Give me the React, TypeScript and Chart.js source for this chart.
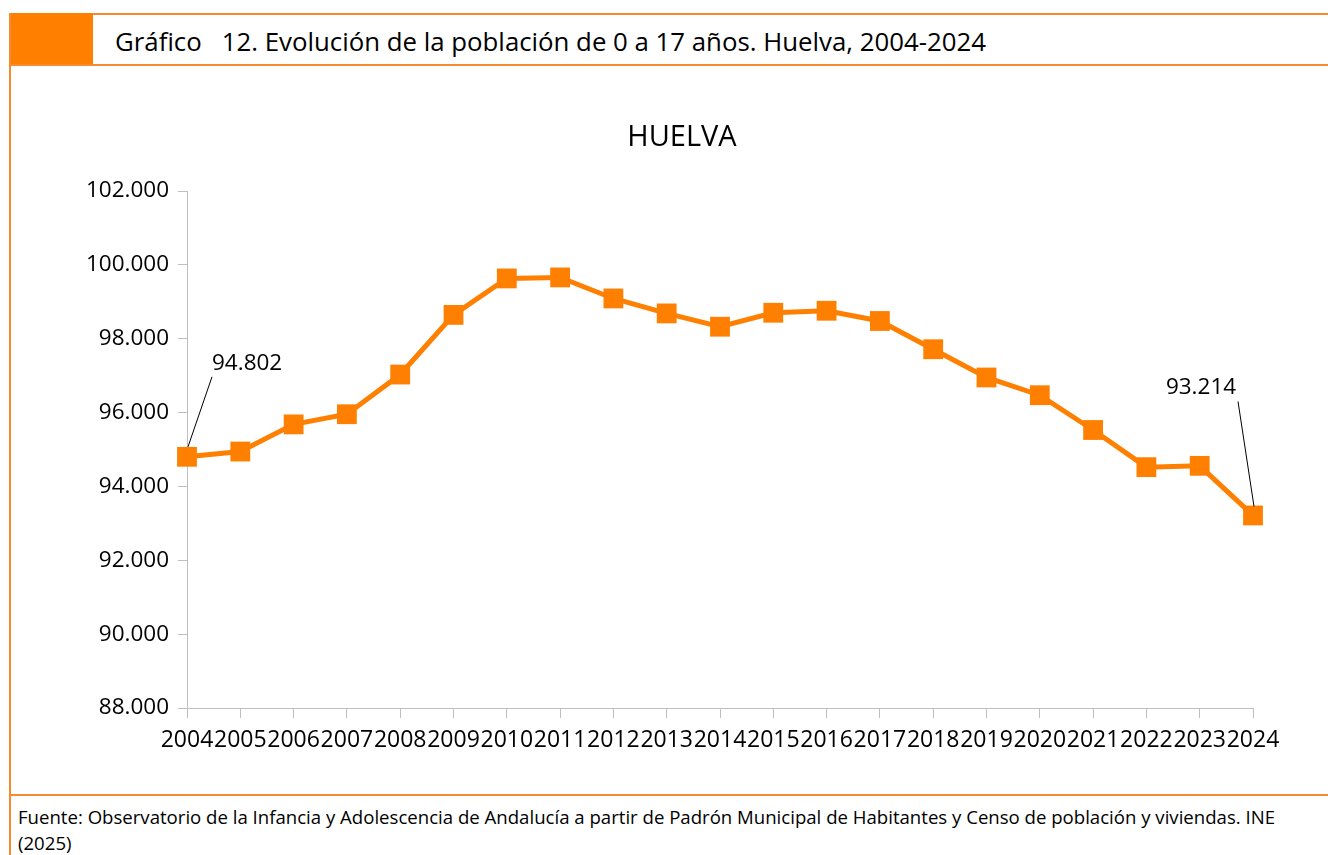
import React, { useEffect, useRef } from "react";
import { Chart, registerables } from "chart.js";

Chart.register(...registerables);

const years = ["2004","2005","2006","2007","2008","2009","2010","2011","2012","2013","2014","2015","2016","2017","2018","2019","2020","2021","2022","2023","2024"];
const population = [94802, 94945, 95680, 95955, 97030, 98645, 99632, 99660, 99090, 98685, 98325, 98703, 98757, 98480, 97715, 96950, 96470, 95528, 94522, 94558, 93214];
const labelledIndices = [0, 20];
const yMin = 88000;
const yMax = 102000;
const yStep = 2000;

const chartTitle = "HUELVA";
const headerText = "Gráfico\u00a0\u00a0\u00a012. Evolución de la población de 0 a 17 años. Huelva, 2004-2024";
const footerLine1 = "Fuente: Observatorio de la Infancia y Adolescencia de Andalucía a partir de Padrón Municipal de Habitantes y Censo de población y viviendas. INE";
const footerLine2 = "(2025)";

const ORANGE = "#FF8000";
const FRAME = "#F58A2E";
const AXIS = "#BFBFBF";
const FONT = "'Open Sans', sans-serif";

function fmt(v: number): string {
  const s = Math.round(v).toString();
  return s.replace(/\B(?=(\d{3})+(?!\d))/g, ".");
}

const labelPlugin = {
  id: "leaderLabels",
  afterDatasetsDraw(chart: any) {
    const ctx = chart.ctx;
    const meta = chart.getDatasetMeta(0);
    ctx.save();
    ctx.font = `22.5px ${FONT}`;
    ctx.fillStyle = "#000";
    ctx.strokeStyle = "#000";
    ctx.lineWidth = 1;
    ctx.textBaseline = "middle";
    labelledIndices.forEach((i) => {
      const p = meta.data[i];
      if (!p) return;
      const x = p.x, y = p.y;
      const txt = fmt(population[i]);
      if (i === 0) {
        ctx.textAlign = "left";
        ctx.fillText(txt, x + 25, y - 93);
        ctx.beginPath();
        ctx.moveTo(x + 25, y - 80);
        ctx.lineTo(x + 1, y - 10);
        ctx.stroke();
      } else {
        ctx.textAlign = "center";
        ctx.fillText(txt, x - 52, y - 128);
        ctx.beginPath();
        ctx.moveTo(x - 15, y - 114);
        ctx.lineTo(x + 1, y - 9);
        ctx.stroke();
      }
    });
    ctx.restore();
  },
};

const titlePlugin = {
  id: "customTitle",
  afterDraw(chart: any) {
    const ctx = chart.ctx;
    ctx.save();
    ctx.font = `29px ${FONT}`;
    ctx.fillStyle = "#000";
    ctx.textAlign = "center";
    ctx.textBaseline = "middle";
    ctx.fillText(chartTitle, chart.width / 2, 72);
    ctx.restore();
  },
};

export default function App() {
  const ref = useRef<HTMLCanvasElement | null>(null);

  useEffect(() => {
    if (!ref.current) return;
    const chart = new Chart(ref.current, {
      type: "line",
      data: {
        labels: years,
        datasets: [
          {
            data: population,
            borderColor: ORANGE,
            backgroundColor: ORANGE,
            borderWidth: 5,
            pointStyle: "rect",
            pointRadius: 14,
            pointHoverRadius: 14,
            pointBackgroundColor: ORANGE,
            pointBorderColor: ORANGE,
            pointBorderWidth: 0,
            tension: 0,
            clip: false as any,
          },
        ],
      },
      options: {
        animation: false,
        responsive: false,
        maintainAspectRatio: false,
        layout: { padding: { top: 125, right: 75, left: 0, bottom: 0 } },
        plugins: {
          legend: { display: false },
          title: { display: false },
          tooltip: { enabled: false },
        },
        scales: {
          x: {
            type: "category",
            offset: false,
            afterFit: (scale: any) => {
              scale.height = 86;
            },
            border: { color: AXIS, width: 1 },
            grid: {
              drawOnChartArea: false,
              drawTicks: true,
              tickLength: 10,
              color: AXIS,
            },
            ticks: {
              autoSkip: false,
              maxRotation: 0,
              minRotation: 0,
              padding: 9,
              color: "#000",
              font: { family: FONT, size: 23 },
            },
          },
          y: {
            min: yMin,
            max: yMax,
            afterFit: (scale: any) => {
              scale.width = 151;
            },
            border: { color: AXIS, width: 1 },
            grid: {
              drawOnChartArea: false,
              drawTicks: true,
              tickLength: 9,
              color: AXIS,
            },
            ticks: {
              stepSize: yStep,
              padding: 9,
              color: "#000",
              font: { family: FONT, size: 22.5 },
              callback: (v: any) => fmt(Number(v)),
            },
          },
        },
      },
      plugins: [labelPlugin, titlePlugin],
    });
    return () => chart.destroy();
  }, []);

  return (
    <div style={{ position: "absolute", left: 0, top: 0, width: 1328, height: 855, background: "#fff", overflow: "hidden", fontFamily: FONT }}>
      <div style={{ position: "absolute", left: 9, top: 13, width: 1319, height: 2, background: FRAME }} />
      <div style={{ position: "absolute", left: 9, top: 13, width: 84, height: 53, background: ORANGE }} />
      <div style={{ position: "absolute", left: 9, top: 64, width: 1319, height: 2, background: FRAME }} />
      <div style={{ position: "absolute", left: 9, top: 13, width: 2, height: 842, background: FRAME }} />
      <div style={{ position: "absolute", left: 9, top: 794, width: 1319, height: 2, background: FRAME }} />
      <div style={{ position: "absolute", left: 115, top: 24, fontSize: 25.8, lineHeight: "34px", color: "#000", whiteSpace: "nowrap" }}>
        {headerText}
      </div>
      <canvas ref={ref} width={1292} height={728} style={{ position: "absolute", left: 36, top: 66, width: 1292, height: 728 }} />
      <div style={{ position: "absolute", left: 18, top: 804, fontSize: 18.6, lineHeight: "26px", color: "#000", whiteSpace: "nowrap" }}>
        {footerLine1}
        <br />
        {footerLine2}
      </div>
    </div>
  );
}
